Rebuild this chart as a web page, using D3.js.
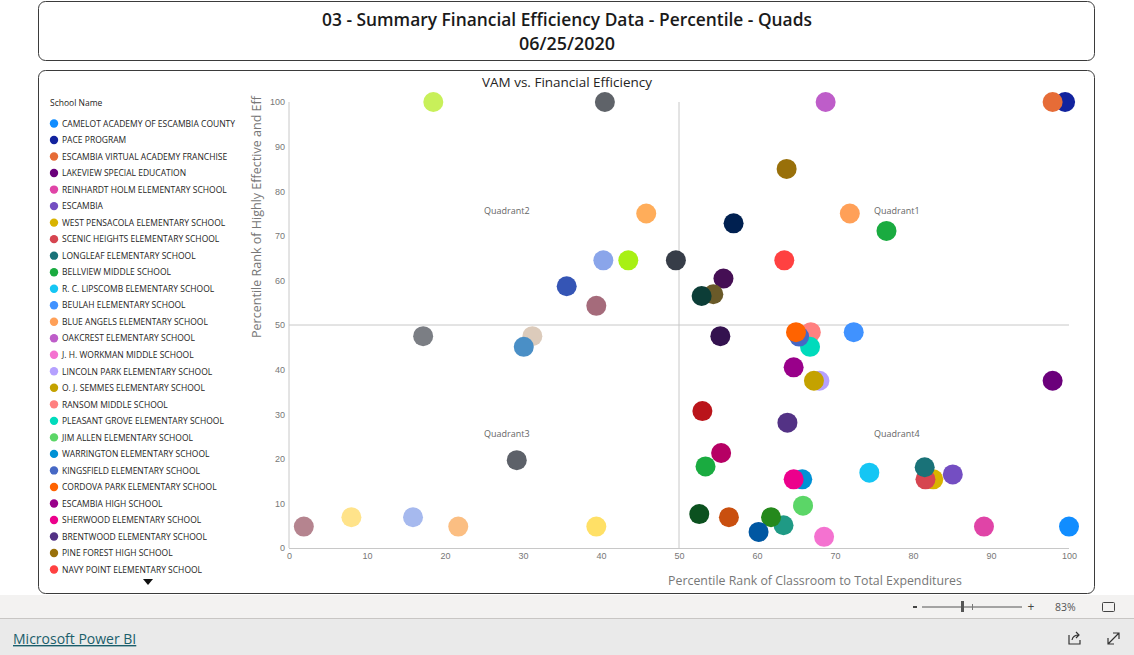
<!DOCTYPE html>
<html><head><meta charset="utf-8">
<script src="https://cdn.jsdelivr.net/npm/d3@7"></script>
<style>
body{margin:0;background:#fff;overflow:hidden}
svg{display:block;font-family:"Segoe UI","Open Sans",sans-serif}
</style></head><body><svg id="c" width="1134" height="655"></svg>
<script>
const schools = [
 "CAMELOT ACADEMY OF ESCAMBIA COUNTY","PACE PROGRAM","ESCAMBIA VIRTUAL ACADEMY FRANCHISE","LAKEVIEW SPECIAL EDUCATION",
 "REINHARDT HOLM ELEMENTARY SCHOOL","ESCAMBIA","WEST PENSACOLA ELEMENTARY SCHOOL","SCENIC HEIGHTS ELEMENTARY SCHOOL",
 "LONGLEAF ELEMENTARY SCHOOL","BELLVIEW MIDDLE SCHOOL","R. C. LIPSCOMB ELEMENTARY SCHOOL","BEULAH ELEMENTARY SCHOOL",
 "BLUE ANGELS ELEMENTARY SCHOOL","OAKCREST ELEMENTARY SCHOOL","J. H. WORKMAN MIDDLE SCHOOL","LINCOLN PARK ELEMENTARY SCHOOL",
 "O. J. SEMMES ELEMENTARY SCHOOL","RANSOM MIDDLE SCHOOL","PLEASANT GROVE ELEMENTARY SCHOOL","JIM ALLEN ELEMENTARY SCHOOL",
 "WARRINGTON ELEMENTARY SCHOOL","KINGSFIELD ELEMENTARY SCHOOL","CORDOVA PARK ELEMENTARY SCHOOL","ESCAMBIA HIGH SCHOOL",
 "SHERWOOD ELEMENTARY SCHOOL","BRENTWOOD ELEMENTARY SCHOOL","PINE FOREST HIGH SCHOOL","NAVY POINT ELEMENTARY SCHOOL",
 "SCHOOL 29","SCHOOL 30","SCHOOL 31","SCHOOL 32","SCHOOL 33","SCHOOL 34","SCHOOL 35","SCHOOL 36","SCHOOL 37","SCHOOL 38",
 "SCHOOL 39","SCHOOL 40","SCHOOL 41","SCHOOL 42","SCHOOL 43","SCHOOL 44","SCHOOL 45","SCHOOL 46","SCHOOL 47","SCHOOL 48",
 "SCHOOL 49","SCHOOL 50","SCHOOL 51","SCHOOL 52","SCHOOL 53","SCHOOL 54","SCHOOL 55","SCHOOL 56","SCHOOL 57","SCHOOL 58"
];
const classroomPct = [
 100, 99.5, 97.9, 97.9, 89.1, 85.1, 82.6, 81.6, 81.5, 76.6, 74.4, 72.4, 71.9, 68.8, 68.6, 68.0, 67.3, 66.9, 66.8, 65.9,
 65.8, 65.4, 65.0, 64.7, 64.7, 63.9, 63.8, 63.5, 63.4, 61.8, 60.2, 57.0, 56.4, 55.7, 55.4, 55.3, 54.4, 53.4, 53.0, 52.9,
 52.6, 49.6, 45.8, 43.5, 40.5, 40.3, 39.4, 39.4, 35.6, 31.2, 30.1, 29.2, 21.7, 18.5, 17.2, 15.9, 8.0, 1.9
];
const effectivePct = [
 4.8, 100, 100, 37.5, 4.8, 16.5, 15.4, 15.4, 18.1, 71.1, 16.9, 48.4, 75.0, 100, 2.5, 37.5, 37.5, 48.4, 45.1, 9.5,
 15.4, 47.4, 48.4, 40.5, 15.4, 28.1, 85.0, 64.5, 5.1, 6.9, 3.6, 72.8, 6.9, 60.4, 21.3, 47.5, 56.9, 18.3, 30.7, 56.5,
 7.6, 64.5, 75.0, 64.5, 100, 64.5, 4.8, 54.3, 58.7, 47.5, 45.1, 19.7, 4.8, 100, 47.5, 6.9, 6.9, 4.8
];
const colors = [
 "#118DFF","#12239E","#E66C37","#6B007B","#E044A7","#744EC2","#D9B300","#D64550","#197278","#1AAB40",
 "#15C6F4","#4092FF","#FFA058","#BE5DC9","#F472D0","#B5A1FF","#C4A200","#FF8080","#00DBBC","#5BD667",
 "#0091D5","#4668C5","#FF6300","#99008A","#EC008C","#533285","#99700A","#FF4141","#1F9A85","#25891C",
 "#0057A2","#002050","#C94F0F","#450F54","#B60064","#34124F","#6A5A29","#1AAB40","#BA141A","#0C3D37",
 "#0B511F","#373D48","#FFAD5A","#A8F014","#5F6369","#8AA5EA","#FFE066","#A56B7B","#3555B5","#DCCBBB",
 "#4A8FC6","#5D6169","#FBBE82","#C8F05A","#7B7E84","#A6B9EE","#FFE38A","#B5848F"
];
const xTicks = [0,10,20,30,40,50,60,70,80,90,100];
const yTicks = [0,10,20,30,40,50,60,70,80,90,100];
const quadLabels = ["Quadrant1","Quadrant2","Quadrant3","Quadrant4"];
const quadX = [75,25,25,75];
const quadY = [75,75,25,25];
const refX = 50, refY = 50;
const legendVisible = 28;

const svg = d3.select("#c");
function fit(sel, w){
  const n = sel.node(); const fs = parseFloat(sel.attr("font-size"));
  const cur = n.getComputedTextLength(); if(cur>0) sel.attr("font-size", (fs*w/cur).toFixed(2));
  return sel;
}

// Title box
svg.append("rect").attr("x",38.5).attr("y",1.5).attr("width",1056).attr("height",59).attr("rx",7)
  .attr("fill","#fff").attr("stroke","#3b3b3b");
fit(svg.append("text").attr("x",567).attr("y",26).attr("text-anchor","middle").attr("font-size",18)
  .attr("font-weight",600).attr("fill","#1a1a1a").text("03 - Summary Financial Efficiency Data - Percentile - Quads"),490);
fit(svg.append("text").attr("x",567).attr("y",50).attr("text-anchor","middle").attr("font-size",18)
  .attr("font-weight",600).attr("fill","#1a1a1a").text("06/25/2020"),96);

// Chart box
svg.append("rect").attr("x",38.5).attr("y",70.5).attr("width",1056).attr("height",523).attr("rx",7)
  .attr("fill","#fff").attr("stroke","#3b3b3b");
fit(svg.append("text").attr("x",567).attr("y",87).attr("text-anchor","middle").attr("font-size",13)
  .attr("fill","#252423").text("VAM vs. Financial Efficiency"),170);

// Legend
svg.append("text").attr("x",50).attr("y",106).attr("font-size",8.5).attr("fill","#252423").text("School Name");
const leg = svg.append("g").selectAll("g").data(schools.slice(0,legendVisible)).join("g")
  .attr("transform",(d,i)=>`translate(0,${123.5+i*16.52})`);
leg.append("circle").attr("cx",54).attr("cy",0).attr("r",4.2).attr("fill",(d,i)=>colors[i]);
leg.append("text").attr("x",62).attr("y",3.2).attr("font-size",8.5).attr("fill","#252423").text(d=>d);
svg.append("path").attr("d","M143,579 L153,579 L148,585 Z").attr("fill","#111");

// Scales
const x = d3.scaleLinear().domain([0,100]).range([289,1069]);
const y = d3.scaleLinear().domain([0,100]).range([548,102]);

const lc = "#c8c8c8";
svg.append("line").attr("x1",x(0)).attr("x2",x(0)).attr("y1",y(100)).attr("y2",y(0)).attr("stroke",lc);
svg.append("line").attr("x1",x(0)).attr("x2",x(100)).attr("y1",y(0)+0.5).attr("y2",y(0)+0.5).attr("stroke",lc);
svg.append("line").attr("x1",x(refX)).attr("x2",x(refX)).attr("y1",y(100)).attr("y2",y(0)).attr("stroke",lc);
svg.append("line").attr("x1",x(0)).attr("x2",x(100)).attr("y1",y(refY)).attr("y2",y(refY)).attr("stroke",lc);

const ax = svg.append("g").attr("transform",`translate(0,${y(0)})`)
  .call(d3.axisBottom(x).tickValues(xTicks).tickSize(0).tickPadding(5));
const ay = svg.append("g").attr("transform",`translate(${x(0)},0)`)
  .call(d3.axisLeft(y).tickValues(yTicks).tickSize(0).tickPadding(4));
[ax,ay].forEach(a=>{a.select(".domain").remove();
  a.selectAll("text").attr("font-size",9).attr("fill","#777").attr("font-family",null);});

fit(svg.append("text").attr("x",815).attr("y",585).attr("text-anchor","middle").attr("font-size",12.5)
  .attr("fill","#777").text("Percentile Rank of Classroom to Total Expenditures"),294);
fit(svg.append("text").attr("transform","translate(261,217) rotate(-90)").attr("text-anchor","middle")
  .attr("font-size",12.5).attr("fill","#777").text("Percentile Rank of Highly Effective and Eff"),242);

svg.append("g").selectAll("text").data(quadLabels).join("text")
  .attr("x",(d,i)=>x(quadX[i])).attr("y",(d,i)=>y(quadY[i])+0.5)
  .attr("font-size",9).attr("fill","#666").text(d=>d);

svg.append("g").selectAll("circle").data(schools).join("circle")
  .attr("cx",(d,i)=>x(classroomPct[i])).attr("cy",(d,i)=>y(effectivePct[i]))
  .attr("r",10).attr("fill",(d,i)=>colors[i]);

// Bottom bar
svg.append("rect").attr("x",0).attr("y",595).attr("width",1134).attr("height",23).attr("fill","#f3f2f1");
svg.append("line").attr("x1",0).attr("x2",1134).attr("y1",618.5).attr("y2",618.5).attr("stroke","#c8c6c4");
svg.append("rect").attr("x",0).attr("y",619).attr("width",1134).attr("height",36).attr("fill","#eaeaea");
svg.append("rect").attr("x",913).attr("y",606).attr("width",4).attr("height",2).attr("fill","#444");
svg.append("line").attr("x1",922).attr("x2",1022).attr("y1",607).attr("y2",607).attr("stroke","#555");
svg.append("rect").attr("x",961).attr("y",601).attr("width",3).attr("height",11).attr("fill","#555");
svg.append("line").attr("x1",972.5).attr("x2",972.5).attr("y1",604).attr("y2",610).attr("stroke","#777");
svg.append("text").attr("x",1031).attr("y",611).attr("text-anchor","middle").attr("font-size",12).attr("fill","#444").text("+");
svg.append("text").attr("x",1055).attr("y",611).attr("font-size",10.5).attr("fill","#555").text("83%");
svg.append("rect").attr("x",1102.5).attr("y",602.5).attr("width",12).attr("height",9).attr("rx",1)
  .attr("fill","none").attr("stroke","#444");
svg.append("text").attr("x",13).attr("y",644).attr("font-size",14).attr("fill","#1b5e6b")
  .attr("text-decoration","underline").text("Microsoft Power BI");
svg.append("path").attr("d","M1069,635 v9 h11 v-4 M1072,640 q1,-5 7,-5 M1076,632 l3,3 l-3,3")
  .attr("fill","none").attr("stroke","#333").attr("stroke-width",1.2);
svg.append("path").attr("d","M1108,644 L1119,633 M1113,633 h6 v6 M1108,638 v6 h6")
  .attr("fill","none").attr("stroke","#333").attr("stroke-width",1.2);
</script></body></html>
